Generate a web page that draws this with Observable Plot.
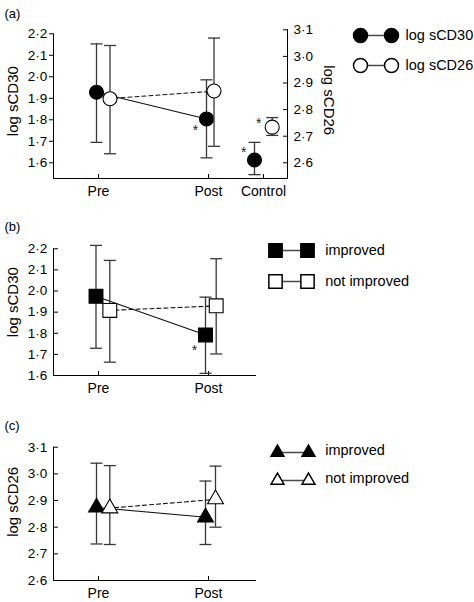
<!DOCTYPE html>
<html>
<head>
<meta charset="utf-8">
<script src="https://cdn.jsdelivr.net/npm/d3@7"></script>
<script src="https://cdn.jsdelivr.net/npm/@observablehq/plot@0.6"></script>
<style>
  body { margin: 0; background: #fff; }
  #fig { position: relative; width: 474px; height: 602px; }
  .panel { position: relative; width: 474px; }
  .panel svg { position: absolute; left: 0; top: 0; overflow: visible; }
</style>
</head>
<body>
<div id="fig"></div>
<script>
// ---------- DATA ----------
const timepoints = ["Pre", "Post", "Control"];
const tickCD30 = [1.6, 1.7, 1.8, 1.9, 2.0, 2.1, 2.2];
const tickCD26 = [2.6, 2.7, 2.8, 2.9, 3.0, 3.1];

// Panel (a): all patients + controls
const aCD30Mean  = [1.928, 1.804, 1.613];
const aCD30Upper = [2.153, 1.986, 1.695];
const aCD30Lower = [1.695, 1.623, 1.545];
const aCD30Signif = ["Post", "Control"];
const aCD26Mean  = [2.841, 2.870, 2.734];
const aCD26Upper = [3.041, 3.069, 2.770];
const aCD26Lower = [2.634, 2.662, 2.703];
const aCD26Signif = ["Control"];
const aLegend = ["log sCD30", "log sCD26"];

// Panel (b): log sCD30 by outcome
const bTimepoints = ["Pre", "Post"];
const bImprovedMean  = [1.975, 1.792];
const bImprovedUpper = [2.216, 1.971];
const bImprovedLower = [1.729, 1.610];
const bImprovedSignif = ["Post"];
const bNotImprovedMean  = [1.908, 1.930];
const bNotImprovedUpper = [2.145, 2.153];
const bNotImprovedLower = [1.663, 1.702];
const bLegend = ["improved", "not improved"];

// Panel (c): log sCD26 by outcome
const cTimepoints = ["Pre", "Post"];
const cImprovedMean  = [2.874, 2.837];
const cImprovedUpper = [3.040, 2.973];
const cImprovedLower = [2.737, 2.735];
const cNotImprovedMean  = [2.871, 2.905];
const cNotImprovedUpper = [3.031, 3.029];
const cNotImprovedLower = [2.735, 2.800];
const cLegend = ["improved", "not improved"];

// ---------- STYLE ----------
const FONT = '"Liberation Sans", Arial, Helvetica, sans-serif';
const ERR = "#383838";
const LINE = "#111";
const fmt = d => d3.format(".1f")(d).replace(".", "\u00b7");
const capSymbol = {draw(ctx) { ctx.moveTo(-6, 0); ctx.lineTo(6, 0); }};
const slotsA = ["Pre", "gap", "Post", "Control"];
const slotsBC = ["Pre", "gap", "Post"];
const baseStyle = {fontFamily: FONT, fontSize: "13px", background: "transparent", overflow: "visible", color: "black"};

function rows(tps, mean, lo, hi) {
  return tps.map((t, i) => ({t, m: mean[i], lo: lo[i], hi: hi[i]}));
}

function seriesMarks(data, {dx, symbol, r, fill, dash, signif = [], star = {}}) {
  const marks = [];
  const lineRows = data.filter(d => d.t !== "Control");
  const lineDx = d3.mean(lineRows, d => dx[d.t]);
  marks.push(Plot.line(lineRows, {x: "t", y: "m", dx: lineDx, stroke: LINE, strokeWidth: 1.1, strokeDasharray: dash}));
  for (const d of data) {
    marks.push(Plot.ruleX([d], {x: "t", y1: "lo", y2: "hi", dx: dx[d.t], stroke: ERR, strokeWidth: 1.3}));
    marks.push(Plot.dot([d], {x: "t", y: "hi", dx: dx[d.t], symbol: capSymbol, r: 1, fill: "none", stroke: ERR, strokeWidth: 1.3}));
    marks.push(Plot.dot([d], {x: "t", y: "lo", dx: dx[d.t], symbol: capSymbol, r: 1, fill: "none", stroke: ERR, strokeWidth: 1.3}));
  }
  for (const d of data) {
    marks.push(Plot.dot([d], {x: "t", y: "m", dx: dx[d.t], symbol, r, fill, stroke: "black", strokeWidth: 1.1}));
  }
  for (const d of data.filter(d => signif.includes(d.t))) {
    const o = star[d.t];
    marks.push(Plot.text([d], {x: "t", y: "m", text: () => "*", dx: dx[d.t] + o[0], dy: o[1], fontSize: 14, fill: "#222"}));
  }
  return marks;
}

function legendPlot({height, labels, xRange, yRange, symbol, r, textDx, textDy = 0}) {
  const ends = ["from", "to"];
  const pts = labels.flatMap((l, i) => ends.map(e => ({label: l, end: e, i})));
  return Plot.plot({
    width: 474, height, margin: 0, style: baseStyle,
    x: {type: "point", domain: ends, range: xRange, padding: 0, axis: null},
    y: {type: "point", domain: labels, range: yRange, padding: 0, axis: null},
    marks: [
      Plot.line(pts, {x: "end", y: "label", z: "label", stroke: "#4a4a4a", strokeWidth: 1.3}),
      Plot.dot(pts.filter(d => d.i === 0), {x: "end", y: "label", symbol, r, fill: "black", stroke: "black"}),
      Plot.dot(pts.filter(d => d.i === 1), {x: "end", y: "label", symbol, r, fill: "white", stroke: "black"}),
      Plot.text(labels, {x: () => "to", y: d => d, text: d => d, dx: textDx, dy: textDy, textAnchor: "start", fontSize: 14.5, fill: "black"})
    ]
  });
}

function panelLabel(txt, dx, dy) {
  return Plot.text([txt], {text: d => d, frameAnchor: "top-left", dx, dy, textAnchor: "start", lineAnchor: "middle", fontSize: 13, fill: "black"});
}
function axisTitle(txt, anchor, dx, dy) {
  return Plot.text([txt], {text: d => d, frameAnchor: anchor, rotate: anchor === "left" ? -90 : 90, dx, dy, textAnchor: "middle", lineAnchor: "middle", fontSize: 15, fill: "black"});
}

const fig = document.getElementById("fig");
function makePanel(h) {
  const div = document.createElement("div");
  div.className = "panel";
  div.style.height = h + "px";
  fig.appendChild(div);
  return div;
}

// ---------- PANEL (a) ----------
{
  const div = makePanel(200);
  const xA = {type: "point", domain: slotsA, padding: 0, insetLeft: 44, insetRight: 24};
  const cd30 = rows(timepoints, aCD30Mean, aCD30Lower, aCD30Upper);
  const cd26 = rows(timepoints, aCD26Mean, aCD26Lower, aCD26Upper);
  const left = Plot.plot({
    width: 474, height: 200, marginLeft: 53, marginRight: 187, marginTop: 33.3, marginBottom: 22,
    style: baseStyle,
    x: xA,
    y: {domain: [1.527, 2.2], label: null},
    marks: [
      Plot.frame({anchor: "left"}),
      Plot.frame({anchor: "bottom"}),
      Plot.axisY(tickCD30, {anchor: "left", tickSize: 4, tickPadding: 2.3, tickFormat: fmt, fontSize: 13.5, label: null}),
      Plot.axisX(timepoints, {anchor: "bottom", tickSize: -4, tickPadding: 11.5, fontSize: 14, label: null}),
      axisTitle("log sCD30", "left", -40, -5),
      panelLabel("(a)", -49, -20.3),
      ...seriesMarks(cd30, {dx: {Pre: -2, Post: -2, Control: -9}, symbol: "circle", r: 7, fill: "black",
        signif: aCD30Signif, star: {Post: [-11, 11.7], Control: [-10.7, -7]}})
    ]
  });
  const right = Plot.plot({
    width: 474, height: 200, marginLeft: 53, marginRight: 187, marginTop: 29.3, marginBottom: 22,
    style: baseStyle,
    x: {...xA, axis: null},
    y: {domain: [2.541, 3.1], label: null},
    marks: [
      Plot.frame({anchor: "right"}),
      Plot.axisY(tickCD26, {anchor: "right", tickSize: -5, tickPadding: 11, tickFormat: fmt, fontSize: 13.5, label: null}),
      axisTitle("log sCD26", "right", 41, -4),
      ...seriesMarks(cd26, {dx: {Pre: 11.5, Post: 5.5, Control: 8.7}, symbol: "circle", r: 7, fill: "white", dash: "4,3",
        signif: aCD26Signif, star: {Control: [-13.4, -3.7]}})
    ]
  });
  div.appendChild(left);
  div.appendChild(right);
  div.appendChild(legendPlot({height: 200, labels: aLegend, xRange: [359.3, 391], yRange: [35, 65], symbol: "circle", r: 7, textDx: 14}));
}

// ---------- PANEL (b) ----------
{
  const div = makePanel(200);
  const imp = rows(bTimepoints, bImprovedMean, bImprovedLower, bImprovedUpper);
  const nimp = rows(bTimepoints, bNotImprovedMean, bNotImprovedLower, bNotImprovedUpper);
  div.appendChild(Plot.plot({
    width: 474, height: 200, marginLeft: 53, marginRight: 219, marginTop: 48.3, marginBottom: 25,
    style: baseStyle,
    x: {type: "point", domain: slotsBC, padding: 0, insetLeft: 44, insetRight: 47},
    y: {domain: [1.6, 2.2], label: null},
    marks: [
      Plot.frame({anchor: "left"}),
      Plot.frame({anchor: "bottom"}),
      Plot.axisY(tickCD30, {anchor: "left", tickSize: -5, tickPadding: 11.3, tickFormat: fmt, fontSize: 13.5, label: null}),
      Plot.axisX(bTimepoints, {anchor: "bottom", tickSize: -4, tickPadding: 12, fontSize: 14, label: null}),
      axisTitle("log sCD30", "left", -40, -10),
      panelLabel("(b)", -49, -21.6),
      ...seriesMarks(imp, {dx: {Pre: -2.5, Post: -3}, symbol: "square", r: 7.8, fill: "black",
        signif: bImprovedSignif, star: {Post: [-11, 16]}}),
      ...seriesMarks(nimp, {dx: {Pre: 11.3, Post: 7.7}, symbol: "square", r: 7.8, fill: "white", dash: "4,3"})
    ]
  }));
  div.appendChild(legendPlot({height: 200, labels: bLegend, xRange: [275, 307.3], yRange: [50, 81.7], symbol: "square", r: 7.5, textDx: 17.7}));
}

// ---------- PANEL (c) ----------
{
  const div = makePanel(202);
  const imp = rows(cTimepoints, cImprovedMean, cImprovedLower, cImprovedUpper);
  const nimp = rows(cTimepoints, cNotImprovedMean, cNotImprovedLower, cNotImprovedUpper);
  div.appendChild(Plot.plot({
    width: 474, height: 202, marginLeft: 53, marginRight: 219, marginTop: 46.7, marginBottom: 22,
    style: baseStyle,
    x: {type: "point", domain: slotsBC, padding: 0, insetLeft: 44, insetRight: 47},
    y: {domain: [2.6, 3.1], label: null},
    marks: [
      Plot.frame({anchor: "left"}),
      Plot.frame({anchor: "bottom"}),
      Plot.axisY(tickCD26, {anchor: "left", tickSize: -5, tickPadding: 11.3, tickFormat: fmt, fontSize: 13.5, label: null}),
      Plot.axisX(cTimepoints, {anchor: "bottom", tickSize: -4, tickPadding: 11.5, fontSize: 14, label: null}),
      axisTitle("log sCD26", "left", -40, -12),
      panelLabel("(c)", -49, -21.7),
      ...seriesMarks(imp, {dx: {Pre: -2, Post: -3}, symbol: "triangle", r: 5.9, fill: "black"}),
      ...seriesMarks(nimp, {dx: {Pre: 11.3, Post: 7}, symbol: "triangle", r: 5.9, fill: "white", dash: "4,3"})
    ]
  }));
  div.appendChild(legendPlot({height: 202, labels: cLegend, xRange: [276.7, 308.3], yRange: [51.8, 80], symbol: "triangle", r: 4.8, textDx: 16.7, textDy: -2}));
}
</script>
</body>
</html>
